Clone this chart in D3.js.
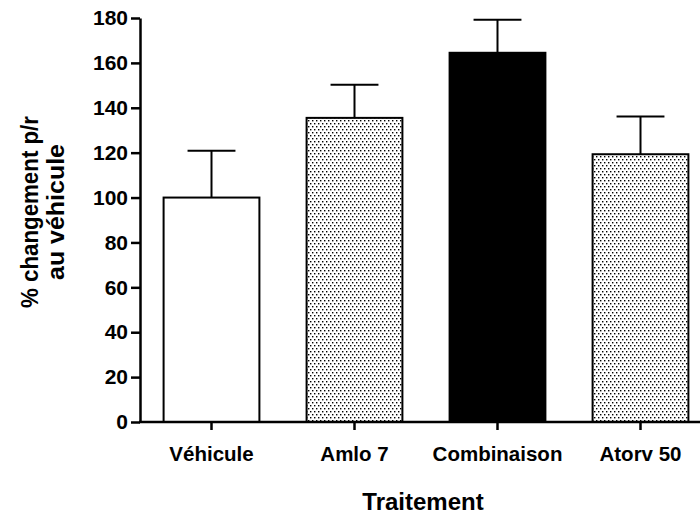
<!DOCTYPE html>
<html>
<head>
<meta charset="utf-8">
<script src="https://cdn.jsdelivr.net/npm/d3@7"></script>
<style>
  body { margin: 0; background: #fff; }
  svg { display: block; font-family: Arial, "Liberation Sans", sans-serif; font-weight: bold; }
</style>
</head>
<body>
<div id="chart"></div>
<script>
const categories = ["Véhicule", "Amlo 7", "Combinaison", "Atorv 50"];
const means = [100, 135.5, 164.5, 119.3];
const errors = [20.8, 14.8, 14.7, 16.8];
const fills = ["white", "url(#dots)", "black", "url(#dots)"];
const yTicks = [0, 20, 40, 60, 80, 100, 120, 140, 160, 180];

const width = 700, height = 517;
const x0 = 140, yBottom = 422, yTop = 18;
const font = "Arial, 'Liberation Sans', sans-serif";

const svg = d3.select("#chart").append("svg")
    .attr("width", width)
    .attr("height", height);

const pat = svg.append("defs").append("pattern")
    .attr("id", "dots")
    .attr("patternUnits", "userSpaceOnUse")
    .attr("width", 4)
    .attr("height", 6);
pat.append("rect").attr("width", 4).attr("height", 6).attr("fill", "white");
pat.append("rect").attr("x", 0).attr("y", 0).attr("width", 1.4).attr("height", 1.4).attr("fill", "black");
pat.append("rect").attr("x", 2).attr("y", 3).attr("width", 1.4).attr("height", 1.4).attr("fill", "black");

const xScale = d3.scaleBand()
    .domain(categories)
    .range([x0, x0 + 572])
    .paddingInner(0.33)
    .paddingOuter(0.165);

const yScale = d3.scaleLinear().domain([0, 180]).range([yBottom, yTop]);

// bars
svg.selectAll("rect.bar")
    .data(categories)
    .enter().append("rect")
    .attr("class", "bar")
    .attr("x", d => xScale(d))
    .attr("y", (d, i) => yScale(means[i]))
    .attr("width", xScale.bandwidth())
    .attr("height", (d, i) => yBottom - yScale(means[i]))
    .attr("fill", (d, i) => fills[i])
    .attr("stroke", "black")
    .attr("stroke-width", 2);

// error bars (up only)
const capW = xScale.bandwidth() / 2;
const err = svg.selectAll("g.err")
    .data(categories)
    .enter().append("g")
    .attr("class", "err")
    .attr("stroke", "black")
    .attr("stroke-width", 2);
err.append("line")
    .attr("x1", d => xScale(d) + xScale.bandwidth() / 2)
    .attr("x2", d => xScale(d) + xScale.bandwidth() / 2)
    .attr("y1", (d, i) => yScale(means[i]))
    .attr("y2", (d, i) => yScale(means[i] + errors[i]));
err.append("line")
    .attr("x1", d => xScale(d) + xScale.bandwidth() / 2 - capW / 2)
    .attr("x2", d => xScale(d) + xScale.bandwidth() / 2 + capW / 2)
    .attr("y1", (d, i) => yScale(means[i] + errors[i]))
    .attr("y2", (d, i) => yScale(means[i] + errors[i]));

// y axis
const yAxis = svg.append("g")
    .attr("transform", `translate(${x0},0)`)
    .call(d3.axisLeft(yScale).tickValues(yTicks).tickSize(9).tickPadding(3).tickSizeOuter(0));
yAxis.select(".domain").attr("stroke-width", 2.5);
yAxis.selectAll(".tick line").attr("stroke-width", 2.5);
yAxis.selectAll(".tick text")
    .attr("font-size", 21)
    .attr("font-weight", "bold")
    .attr("font-family", font)
    .attr("fill", "black");

// x axis
const xAxis = svg.append("g")
    .attr("transform", `translate(0,${yBottom})`)
    .call(d3.axisBottom(xScale).tickSize(8).tickPadding(16).tickSizeOuter(0));
xAxis.select(".domain").attr("d", `M${x0 - 1},0H700`).attr("stroke-width", 2.5);
xAxis.selectAll(".tick line").attr("stroke-width", 2.5);
xAxis.selectAll(".tick text")
    .attr("font-size", 20.5)
    .attr("font-weight", "bold")
    .attr("font-family", font)
    .attr("fill", "black");

// axis titles
svg.append("text")
    .attr("x", 423)
    .attr("y", 510)
    .attr("text-anchor", "middle")
    .attr("font-size", 24)
    .text("Traitement");

const yTitle = svg.append("text")
    .attr("transform", "translate(0,212) rotate(-90)")
    .attr("text-anchor", "middle")
    .attr("font-size", 23);
yTitle.append("tspan").attr("x", 0).attr("y", 38)
    .attr("textLength", 192).attr("lengthAdjust", "spacingAndGlyphs")
    .text("% changement p/r");
yTitle.append("tspan").attr("x", 0).attr("y", 64)
    .attr("textLength", 136).attr("lengthAdjust", "spacingAndGlyphs")
    .text("au véhicule");
</script>
</body>
</html>
